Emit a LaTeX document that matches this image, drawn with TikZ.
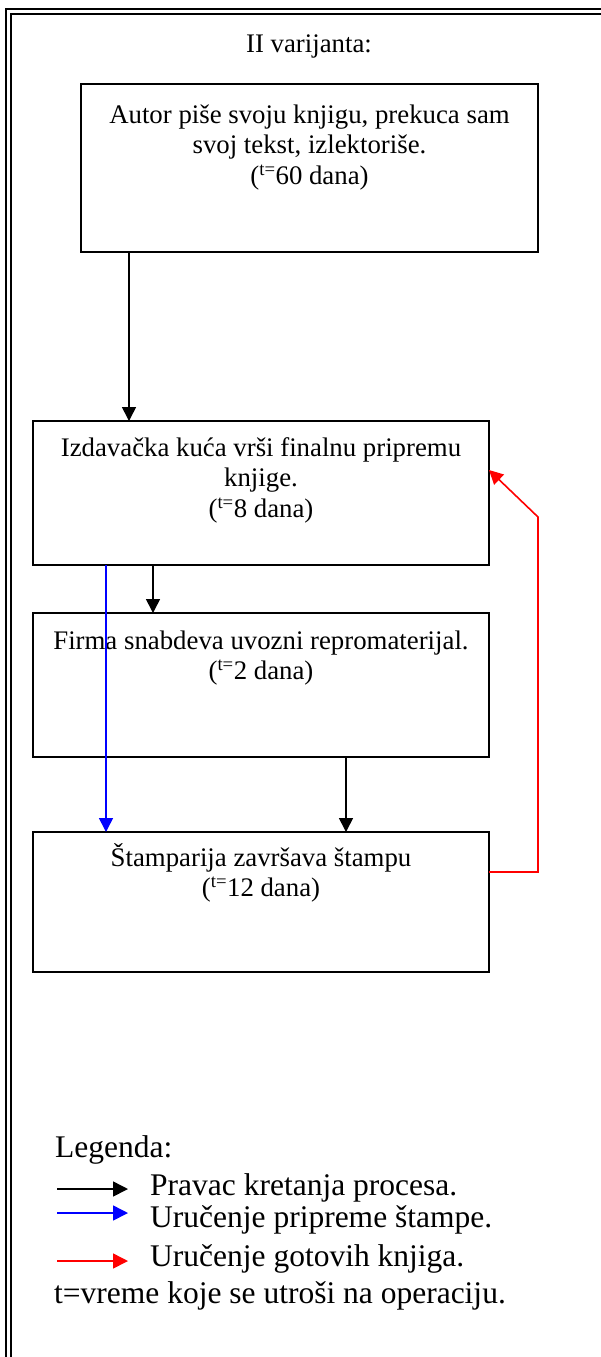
\documentclass[tikz,border=0pt]{standalone}
\usepackage{fontspec}
\setmainfont{Liberation Serif}
\usetikzlibrary{arrows.meta}
\begin{document}
\begin{tikzpicture}[x=1pt,y=-1pt,
  frame/.style={line width=2pt, black},
  box/.style={draw, line width=1.8pt, anchor=north west, inner sep=0pt, outer sep=0pt},
  titletext/.style={anchor=base, inner sep=0pt, font=\fontsize{26.8}{30.6}\selectfont},
  boxtext/.style={anchor=base, inner sep=0pt, font=\fontsize{26.8}{30.6}\selectfont},
  legtext/.style={anchor=base west, inner sep=0pt, font=\fontsize{31.5}{36}\selectfont},
  flow/.style={line width=1.6pt, -{Triangle[length=14pt,width=14pt]}},
  legarrow/.style={line width=1.6pt, -{Triangle[length=15pt,width=15pt]}}]
\useasboundingbox (0,0) rectangle (601,1357);
\clip (0,0) rectangle (601,1357);
% frame (double line)
\draw[frame] (6,1400) -- (6,9) -- (640,9);
\draw[frame] (11,1400) -- (11,14) -- (640,14);
% title
\node[titletext] (title) at (309,52) {II varijanta:};
% boxes
\node[box, minimum width=457pt, minimum height=168pt] (b1) at (81,84) {};
\node[box, minimum width=456pt, minimum height=144pt] (b2) at (33,421) {};
\node[box, minimum width=456pt, minimum height=144pt] (b3) at (33,613) {};
\node[box, minimum width=456pt, minimum height=140pt] (b4) at (33,832) {};
% box texts
\node[boxtext] (t1) at (309.5,123) {\begin{tabular}[t]{@{}c@{}}Autor piše svoju knjigu, prekuca sam\\ svoj tekst, izlektoriše.\\ (\textsuperscript{t=}60 dana)\end{tabular}};
\node[boxtext] (t2) at (261,456) {\begin{tabular}[t]{@{}c@{}}Izdavačka kuća vrši finalnu pripremu\\ knjige.\\ (\textsuperscript{t=}8 dana)\end{tabular}};
\node[boxtext] (t3) at (261,649) {\begin{tabular}[t]{@{}c@{}}Firma snabdeva uvozni repromaterijal.\\ (\textsuperscript{t=}2 dana)\end{tabular}};
\node[boxtext] (t4) at (261,866) {\begin{tabular}[t]{@{}c@{}}Štamparija završava štampu\\ (\textsuperscript{t=}12 dana)\end{tabular}};
% connectors
\draw[flow] ([xshift=48pt]b1.south west) -- ([xshift=96pt]b2.north west);
\draw[flow] ([xshift=120pt]b2.south west) -- ([xshift=120pt]b3.north west);
\draw[flow] ([xshift=313pt]b3.south west) -- ([xshift=313pt]b4.north west);
\draw[flow, blue] ([xshift=73pt]b2.south west) -- ([xshift=73pt]b4.north west);
\draw[flow, red] ([yshift=-40pt]b4.north east) -- ++(49,0) -- ++(0,-355) -- ([yshift=-49pt]b2.north east);
% legend
\node[legtext] (leg) at (55,1157) {Legenda:};
\coordinate (k1) at (57,1189);
\coordinate (k2) at (128,1189);
\coordinate (u1) at (57,1213);
\coordinate (u2) at (128,1213);
\coordinate (g1) at (57,1261);
\coordinate (g2) at (128,1261);
\draw[legarrow] (k1) -- (k2);
\draw[legarrow, blue] (u1) -- (u2);
\draw[legarrow, red] (g1) -- (g2);
\node[legtext] (l1) at (150,1195) {Pravac kretanja procesa.};
\node[legtext] (l2) at (150,1227) {Uručenje pripreme štampe.};
\node[legtext] (l3) at (150,1266) {Uručenje gotovih knjiga.};
\node[legtext] (l4) at (54,1303) {t=vreme koje se utroši na operaciju.};
\end{tikzpicture}
\end{document}
